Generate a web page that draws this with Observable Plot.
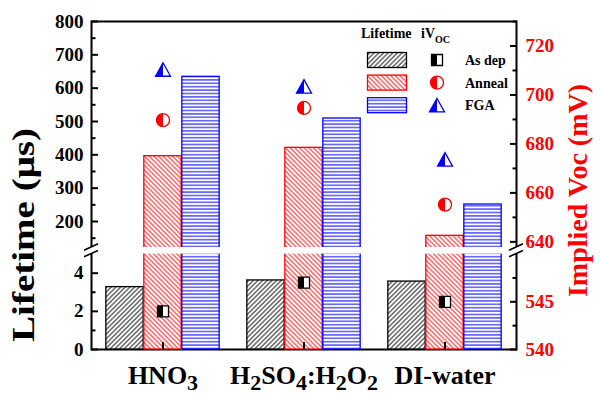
<!DOCTYPE html>
<html><head><meta charset="utf-8">
<script src="https://cdn.jsdelivr.net/npm/d3@7"></script>
<script src="https://cdn.jsdelivr.net/npm/@observablehq/plot@0.6"></script>
<style>
html,body{margin:0;padding:0;background:#fff;}
#chart{position:relative;width:600px;height:396px;overflow:hidden;}
#chart svg{position:absolute;left:0;top:0;}
</style></head><body><div id="chart"></div>
<script>
// ---------- data ----------
const categories = ["HNO3", "H2SO4:H2O2", "DI-water"];
const seriesNames = ["As dep", "Anneal", "FGA"];
const lifetimeAsDep = [3.27, 3.62, 3.56];
const lifetimeAnneal = [396, 421, 157];
const lifetimeFGA = [634, 509, 251];
const vocAsDep = [544.0, 547.0, 545.0];
const vocAnneal = [689.7, 694.7, 655.2];
const vocFGA = [710.4, 703.5, 673.7];
const lifetimeTicks = [0, 2, 4, 200, 300, 400, 500, 600, 700, 800];
const lifetimeMinorTicks = [1, 3, 150, 250, 350, 450, 550, 650, 750];
const vocTicks = [540, 545, 640, 660, 680, 700, 720];
const vocMinorTicks = [542.5, 547.5, 650, 670, 690, 710, 730];
const lifetimeDomain = [0, 5, 122, 800];   // broken axis: 0–5 | 122–800
const vocDomain = [540, 550, 637.7, 730];  // broken axis: 540–550 | 637.7–730

// ---------- layout ----------
const W = 600, H = 396;
const mL = 91, mR = 84, mT = 21, mB = 47;
const yRange = [H - mB, 253.6, 247, mT];
const barW = 38;
const bandW = (W - mL - mR) / categories.length;
const inset = (bandW - barW) / 2;
const font = "'Liberation Serif','Times New Roman',serif";
const RED = "#ff0000", BLUE = "#0000ff";
const colors = {"As dep": "#000", "Anneal": RED, "FGA": BLUE};
const hatch = {"As dep": "url(#hatchAsDep)", "Anneal": "url(#hatchAnneal)", "FGA": "url(#hatchFGA)"};
const offsets = {"As dep": -barW, "Anneal": 0, "FGA": barW};

const lifeVals = {"As dep": lifetimeAsDep, "Anneal": lifetimeAnneal, "FGA": lifetimeFGA};
const vocVals = {"As dep": vocAsDep, "Anneal": vocAnneal, "FGA": vocFGA};
const rows = (vals) => categories.map((c, i) => ({cat: c, v: vals[i]}));

// ---------- half-filled symbols ----------
function sym(kind, half) {
  return {draw(ctx, size) {
    const r = Math.sqrt(size / Math.PI);
    if (kind === "square") {
      if (half) { ctx.moveTo(-r, -r); ctx.lineTo(0, -r); ctx.lineTo(0, r); ctx.lineTo(-r, r); ctx.closePath(); }
      else { ctx.moveTo(-r, -r); ctx.lineTo(r, -r); ctx.lineTo(r, r); ctx.lineTo(-r, r); ctx.closePath(); }
    } else if (kind === "circle") {
      if (half) { ctx.moveTo(0, -r); ctx.arc(0, 0, r, -Math.PI / 2, Math.PI / 2, true); ctx.closePath(); }
      else { ctx.moveTo(r, 0); ctx.arc(0, 0, r, 0, 2 * Math.PI); ctx.closePath(); }
    } else {
      const h = 1.8 * r;
      if (half) { ctx.moveTo(0, -h / 2); ctx.lineTo(-r, h / 2); ctx.lineTo(0, h / 2); ctx.closePath(); }
      else { ctx.moveTo(0, -h / 2); ctx.lineTo(r, h / 2); ctx.lineTo(-r, h / 2); ctx.closePath(); }
    }
  }};
}
const symKind = {"As dep": "square", "Anneal": "circle", "FGA": "triangle"};
const symR = {"As dep": 5.5, "Anneal": 6.5, "FGA": 7.5};

// ---------- Plot A: lifetime bars + left axis ----------
const plotA = Plot.plot({
  width: W, height: H, marginLeft: mL, marginRight: mR, marginTop: mT, marginBottom: mB,
  style: {fontFamily: font, fontWeight: "bold", fontSize: "19px", color: "#000", background: "white"},
  x: {type: "band", domain: categories, padding: 0, label: null},
  y: {type: "linear", domain: lifetimeDomain, range: yRange, label: null},
  marks: [
    Plot.frame({stroke: "#000", strokeWidth: 2}),
    ...seriesNames.map(s => Plot.barY(rows(lifeVals[s]), {
      x: "cat", y: "v", fill: hatch[s], stroke: colors[s], strokeWidth: 1.3,
      insetLeft: inset, insetRight: inset, dx: offsets[s]
    })),
    Plot.rect([lifetimeDomain], {y1: d => d[1], y2: d => d[2], fill: "white", insetLeft: -6, insetRight: -6}),
    Plot.axisY({ticks: lifetimeTicks, tickSize: -7, strokeWidth: 2, fill: "none", label: null}),
    Plot.axisY({ticks: lifetimeMinorTicks, tickSize: -4.5, strokeWidth: 2, fill: "none", label: null}),
    Plot.axisY({ticks: lifetimeTicks, tickSize: 0, tickPadding: 8, fontSize: 19, label: null}),
    Plot.axisX({tickSize: -7, strokeWidth: 2, fill: "none", label: null}),
    Plot.axisX({tickSize: 0, tickPadding: 16, fontSize: 26, label: null})
  ]
});

// ---------- Plot B: implied Voc markers + right axis ----------
const plotB = Plot.plot({
  width: W, height: H, marginLeft: mL, marginRight: mR, marginTop: mT, marginBottom: mB,
  style: {fontFamily: font, fontWeight: "bold", fontSize: "19px", color: "#000", background: "transparent"},
  x: {type: "band", domain: categories, padding: 0, label: null, axis: null},
  y: {type: "linear", domain: vocDomain, range: yRange, label: null},
  marks: [
    ...seriesNames.flatMap(s => [
      Plot.dot(rows(vocVals[s]), {x: "cat", y: "v", symbol: sym(symKind[s], false), r: symR[s], fill: "white", stroke: colors[s], strokeWidth: 1.3}),
      Plot.dot(rows(vocVals[s]), {x: "cat", y: "v", symbol: sym(symKind[s], true), r: symR[s], fill: colors[s], stroke: "none"})
    ]),
    Plot.axisY({anchor: "right", ticks: vocTicks, tickSize: -7, strokeWidth: 2, fill: "none", label: null}),
    Plot.axisY({anchor: "right", ticks: vocMinorTicks, tickSize: -4.5, strokeWidth: 2, fill: "none", label: null}),
    Plot.axisY({anchor: "right", ticks: vocTicks, tickSize: 0, tickPadding: 9, fontSize: 19, fill: RED, label: null})
  ]
});

const chart = document.getElementById("chart");
chart.append(plotA, plotB);

// ---------- patterns ----------
const svgA = d3.select(plotA);
const defs = svgA.insert("defs", ":first-child");
function diag(id, color, angle) {
  const p = defs.append("pattern").attr("id", id).attr("patternUnits", "userSpaceOnUse")
    .attr("width", 3.3).attr("height", 10).attr("patternTransform", `rotate(${angle})`);
  p.append("rect").attr("width", 3.3).attr("height", 10).attr("fill", "white");
  p.append("line").attr("x1", 1.65).attr("x2", 1.65).attr("y1", 0).attr("y2", 10)
    .attr("stroke", color).attr("stroke-width", 0.9);
}
diag("hatchAsDep", "#000", 45);
diag("hatchAnneal", RED, -45);
{
  const p = defs.append("pattern").attr("id", "hatchFGA").attr("patternUnits", "userSpaceOnUse")
    .attr("width", 10).attr("height", 3.4);
  p.append("rect").attr("width", 10).attr("height", 3.4).attr("fill", "white");
  p.append("line").attr("x1", 0).attr("x2", 10).attr("y1", 1.7).attr("y2", 1.7)
    .attr("stroke", BLUE).attr("stroke-width", 1);
}

// ---------- axis breaks ----------
const yA = plotA.scale("y");
const yLo = yA.apply(lifetimeDomain[1]), yHi = yA.apply(lifetimeDomain[2]);
for (const x of [mL, W - mR]) {
  for (const yy of [yHi, yLo]) {
    svgA.append("line").attr("x1", x - 7).attr("x2", x + 7)
      .attr("y1", yy + 3.2).attr("y2", yy - 3.2)
      .attr("stroke", "#000").attr("stroke-width", 1.6);
  }
}

// ---------- subscripts in category labels ----------
svgA.selectAll('g[aria-label="x-axis tick label"] text').each(function() {
  const t = d3.select(this);
  const s = this.textContent;
  t.text(null);
  const parts = s.match(/\d+|\D+/g);
  let down = false;
  for (const part of parts) {
    const isNum = /\d/.test(part);
    const ts = t.append("tspan").text(part);
    if (isNum && !down) { ts.attr("dy", 6).attr("font-size", 22); down = true; }
    else if (isNum) { ts.attr("font-size", 22); }
    else if (down) { ts.attr("dy", -6); down = false; }
  }
});

// ---------- axis titles ----------
svgA.append("text").attr("transform", "translate(34,235) rotate(-90)")
  .attr("text-anchor", "middle").attr("font-size", 31).attr("font-weight", "bold")
  .attr("font-family", font).attr("fill", "#000")
  .attr("textLength", 214).attr("lengthAdjust", "spacingAndGlyphs").text("Lifetime (μs)");
const svgB = d3.select(plotB);
svgB.append("text").attr("transform", "translate(587,190.5) rotate(-90)")
  .attr("text-anchor", "middle").attr("font-size", 28).attr("font-weight", "bold")
  .attr("font-family", font).attr("fill", RED).text("Implied Voc (mV)");

// ---------- legend ----------
const lg = svgB.append("g").attr("font-family", font).attr("font-weight", "bold").attr("font-size", 14)
  .attr("fill", "#000").attr("text-anchor", "start");
lg.append("text").attr("x", 361).attr("y", 38).text("Lifetime");
const iv = lg.append("text").attr("x", 421).attr("y", 38);
iv.append("tspan").text("iV");
iv.append("tspan").attr("dy", 5).attr("font-size", 10).text("OC");
seriesNames.forEach((s, i) => {
  const cy = 60 + i * 22.6;
  lg.append("rect").attr("x", 367.5).attr("y", cy - 7.5).attr("width", 39).attr("height", 15)
    .attr("fill", hatch[s]).attr("stroke", colors[s]).attr("stroke-width", 1.3);
  const size = Math.PI * symR[s] * symR[s];
  lg.append("path").attr("transform", `translate(437,${cy})`)
    .attr("d", d3.symbol(sym(symKind[s], false), size)()).attr("fill", "white").attr("stroke", colors[s]).attr("stroke-width", 1.3);
  lg.append("path").attr("transform", `translate(437,${cy})`)
    .attr("d", d3.symbol(sym(symKind[s], true), size)()).attr("fill", colors[s]);
  lg.append("text").attr("x", 465).attr("y", cy + 5).text(s);
});
</script></body></html>
